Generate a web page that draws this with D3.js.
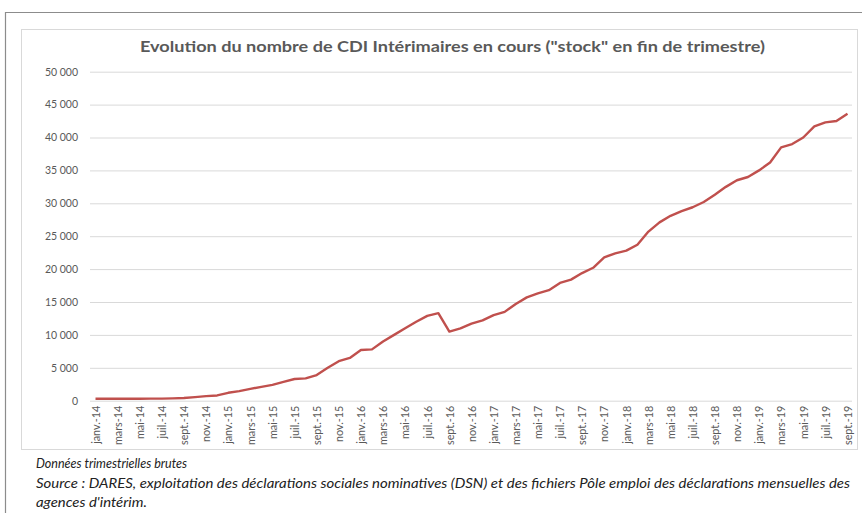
<!DOCTYPE html>
<html>
<head>
<meta charset="utf-8">
<script src="https://cdn.jsdelivr.net/npm/d3@7"></script>
<style>
  body { margin: 0; background: #fff; }
  svg { display: block; font-family: Lato, "Open Sans", sans-serif; }
</style>
</head>
<body>
<div id="vis"></div>
<script>
// month names used by the category axis, janv.-14 .. sept.-19
const monthNames = ['janv.', 'févr.', 'mars', 'avr.', 'mai', 'juin', 'juil.', 'août', 'sept.', 'oct.', 'nov.', 'déc.'];
const years = ['14', '15', '16', '17', '18', '19'];

// stock of CDI intérimaires, one value per month
const stock = [
    300, 300, 300, 300, 300, 310, 320, 350, 400, 550, 700, 800,
    1200, 1450, 1800, 2100, 2400, 2850, 3300, 3400, 3900, 5000, 6000, 6500,
    7700, 7800, 9000, 10000, 11000, 12000, 12900, 13300, 10500, 11000, 11700, 12200,
    13000, 13500, 14700, 15700, 16300, 16800, 17900, 18400, 19400, 20200, 21800, 22400,
    22800, 23700, 25700, 27100, 28100, 28800, 29400, 30200, 31300, 32500, 33500, 34000,
    35000, 36200, 38500, 39000, 40000, 41700, 42300, 42500, 43600
];

const yTicks = [0, 5000, 10000, 15000, 20000, 25000, 30000, 35000, 40000, 45000, 50000];

const title = 'Evolution du nombre de CDI Intérimaires en cours ("stock" en fin de trimestre)';
const notes = [
    'Données trimestrielles brutes',
    'Source : DARES, exploitation des déclarations sociales nominatives (DSN) et des fichiers Pôle emploi des déclarations mensuelles des',
    'agences d\'intérim.'
];

let categories = [];
years.forEach(y => monthNames.forEach(m => categories.push(`${m}-${y}`)));
categories = categories.slice(0, stock.length);

let data = stock.map((v, i) => ({ month: categories[i], value: v }));

const W = 862, H = 513;

let svg = d3.select('#vis')
    .append('svg')
    .attr('width', W)
    .attr('height', H);

// outer frame of the page
svg.append('path')
    .attr('d', `M5.5,${H} V12.5 H${W}`)
    .attr('fill', 'none')
    .attr('stroke', '#8c8c8c')
    .attr('stroke-width', 1.2);

// chart area box
svg.append('rect')
    .attr('x', 21.5).attr('y', 29.5)
    .attr('width', 836).attr('height', 420)
    .attr('fill', '#fff')
    .attr('stroke', '#d9d9d9');

svg.append('text')
    .attr('x', 452.5).attr('y', 52)
    .attr('text-anchor', 'middle')
    .attr('font-size', 15)
    .attr('font-weight', 'bold')
    .attr('fill', '#595959')
    .attr('textLength', 625)
    .attr('lengthAdjust', 'spacingAndGlyphs')
    .text(title);

let xScale = d3.scalePoint()
    .domain(categories)
    .range([95.5, 847.5]);

let yScale = d3.scaleLinear()
    .domain([0, 50000])
    .range([400.7, 71.7]);

let fmt = v => d3.format(',')(v).replace(/,/g, '\u202f');

// gridlines + y labels
let yAxis = d3.axisLeft(yScale)
    .tickValues(yTicks)
    .tickSize(-(852 - 90))
    .tickPadding(12)
    .tickFormat(fmt);

let gy = svg.append('g')
    .attr('transform', 'translate(90,0)')
    .call(yAxis);
gy.select('.domain').remove();
gy.selectAll('.tick line').attr('stroke', '#d9d9d9');
gy.selectAll('.tick text')
    .attr('font-size', 10.5)
    .attr('font-family', 'Lato, sans-serif')
    .attr('fill', '#595959');

// x labels, every second month, rotated
let xAxis = d3.axisBottom(xScale)
    .tickValues(categories.filter((c, i) => i % 2 === 0))
    .tickSize(0);

let gx = svg.append('g')
    .attr('transform', 'translate(0,400.7)')
    .call(xAxis);
gx.select('.domain').remove();
gx.selectAll('.tick text')
    .attr('transform', 'rotate(-90)')
    .attr('text-anchor', 'end')
    .attr('x', -5)
    .attr('y', 0)
    .attr('dy', '0.35em')
    .attr('font-size', 10.8)
    .attr('font-family', 'Lato, sans-serif')
    .attr('fill', '#595959');

let line = d3.line()
    .x(d => xScale(d.month))
    .y(d => yScale(d.value));

svg.append('path')
    .datum(data)
    .attr('d', line)
    .attr('fill', 'none')
    .attr('stroke', '#c0504d')
    .attr('stroke-width', 2.4)
    .attr('stroke-linejoin', 'round');

// notes under the chart
svg.selectAll('.note')
    .data(notes)
    .enter()
    .append('text')
    .attr('class', 'note')
    .attr('x', 36)
    .attr('y', (d, i) => 468 + i * 19.5)
    .attr('font-size', 13.5)
    .attr('font-style', 'italic')
    .attr('fill', '#222')
    .attr('textLength', (d, i) => [151, 814, 111][i])
    .attr('lengthAdjust', 'spacingAndGlyphs')
    .text(d => d);
</script>
</body>
</html>
